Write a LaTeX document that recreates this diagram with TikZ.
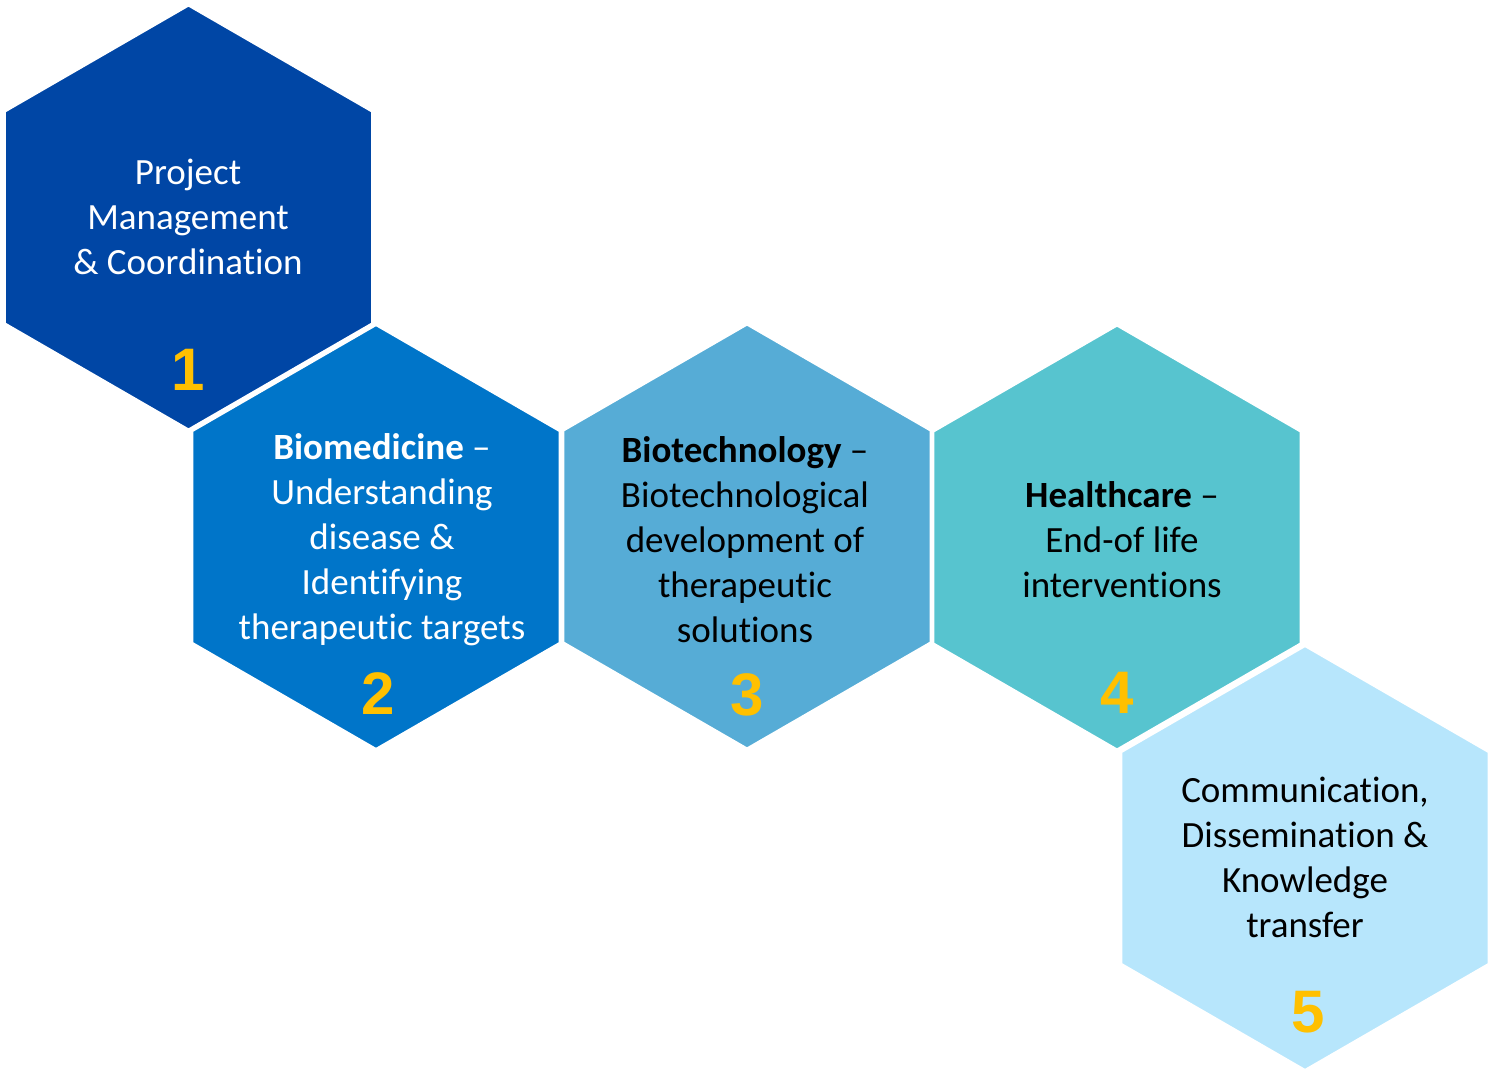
\documentclass[tikz,border=0pt]{standalone}
\usepackage{fontspec}
\setmainfont{Carlito}[RawFeature=-liga]
\newfontfamily\numfont{Liberation Sans}
\definecolor{hexA}{HTML}{0046A5}
\definecolor{hexB}{HTML}{0075C9}
\definecolor{hexC}{HTML}{56ACD6}
\definecolor{hexD}{HTML}{57C4CF}
\definecolor{hexE}{HTML}{B7E6FC}
\definecolor{gold}{HTML}{FFC000}
\begin{document}
\begin{tikzpicture}[x=1pt,y=-1pt,
  hexborder/.style={draw=white, line width=3pt, line join=miter},
  lbl/.style={align=center, font=\fontsize{37}{45}\selectfont, inner sep=0pt},
  num/.style={font=\numfont\bfseries\fontsize{60}{60}\selectfont, text=gold, inner sep=0pt}]
\useasboundingbox (0,0) rectangle (1495,1083);
\foreach \cx/\cy/\col in {188.5/217.5/hexA, 376/537/hexB, 747/536.5/hexC, 1117/537.5/hexD, 1305/858/hexE}{
  \draw[hexborder, fill=\col, shift={(\cx,\cy)}] (90:212.5) -- (30:212.5) -- (-30:212.5) -- (-90:212.5) -- (-150:212.5) -- (150:212.5) -- cycle;
}
\node[lbl, text=white] (t1) at (188,217) {Project\\Management\\\& Coordination};
\node[lbl, text=white] (t2) at (382,540) {\textbf{Biomedicine} –\\Understanding\\disease \&\\Identifying\\therapeutic targets};
\node[lbl] (t3) at (745,540) {\textbf{Biotechnology} –\\Biotechnological\\development of\\therapeutic\\solutions};
\node[lbl] (t4) at (1122,540) {\textbf{Healthcare} –\\End-of life\\interventions};
\node[lbl] (t5) at (1305,857) {Communication,\\Dissemination \&\\Knowledge\\transfer};
\node[num] (n1) at (188,370) {1};
\node[num] (n2) at (378,694) {2};
\node[num] (n3) at (747,695) {3};
\node[num] (n4) at (1117,693) {4};
\node[num] (n5) at (1308,1012) {5};
\end{tikzpicture}
\end{document}
